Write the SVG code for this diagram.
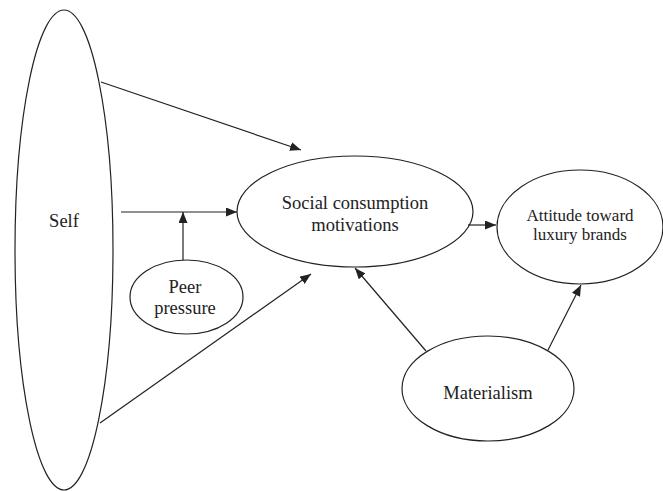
<svg xmlns="http://www.w3.org/2000/svg" width="663" height="491" viewBox="0 0 663 491">
<style>
.n{fill:none;stroke:#222;stroke-width:1.2}
.t{font-family:"Liberation Serif","Times New Roman",serif;font-size:18.5px;fill:#222;text-anchor:middle}
.c{stroke:#222;stroke-width:1.2;fill:none;marker-end:url(#ah)}
</style>
<defs>
<marker id="ah" markerUnits="userSpaceOnUse" markerWidth="12" markerHeight="10" refX="11" refY="4.5" orient="auto">
<path d="M0,0 L11,4.5 L0,9 Z" fill="#222"/>
</marker>
</defs>
<rect width="663" height="491" fill="#fff"/>
<g id="self">
<ellipse class="n" cx="64" cy="250" rx="49" ry="240"/>
<text class="t" x="64" y="227">Self</text>
</g>
<g id="social">
<ellipse class="n" cx="355" cy="211.5" rx="118" ry="55.5"/>
<text class="t" x="355" y="209">Social consumption</text>
<text class="t" x="355" y="231">motivations</text>
</g>
<g id="attitude">
<ellipse class="n" cx="580" cy="227" rx="83" ry="57"/>
<text class="t" x="580" y="221" style="font-size:17px">Attitude toward</text>
<text class="t" x="580" y="240" style="font-size:17px">luxury brands</text>
</g>
<g id="peer">
<ellipse class="n" cx="186.5" cy="297" rx="56.5" ry="37"/>
<text class="t" x="185" y="293">Peer</text>
<text class="t" x="185" y="314">pressure</text>
</g>
<g id="materialism">
<ellipse class="n" cx="488" cy="388.5" rx="86" ry="52.5"/>
<text class="t" x="488" y="398.5">Materialism</text>
</g>
<g id="connectors">
<line class="c" x1="101" y1="82" x2="301" y2="150"/>
<line class="c" x1="121" y1="212" x2="237" y2="212"/>
<line class="c" x1="183" y1="260" x2="183" y2="212"/>
<line class="c" x1="100" y1="423" x2="311" y2="274"/>
<line class="c" x1="468" y1="225" x2="496" y2="225"/>
<line class="c" x1="426" y1="351" x2="355" y2="268"/>
<line class="c" x1="548" y1="350" x2="581" y2="285"/>
</g>
</svg>
